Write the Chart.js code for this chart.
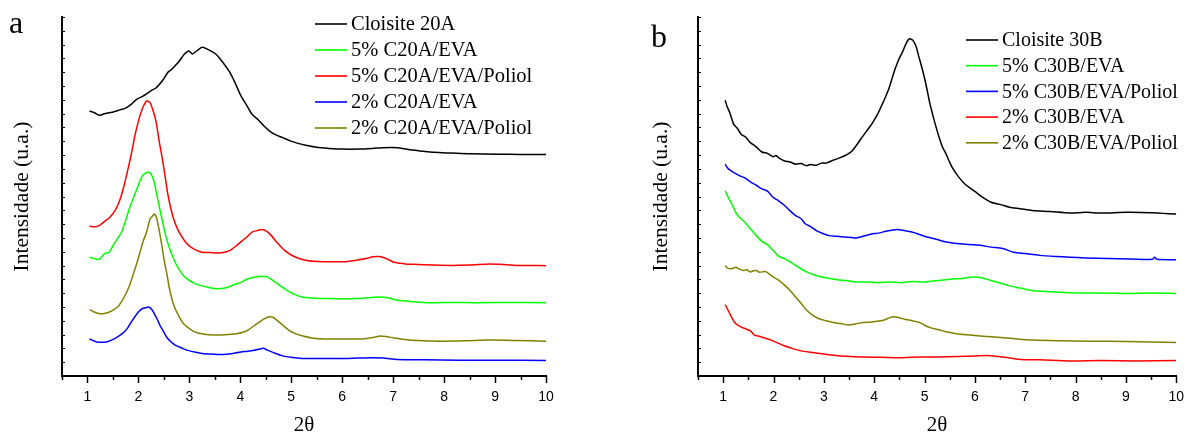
<!DOCTYPE html>
<html><head><meta charset="utf-8">
<script src="https://cdn.jsdelivr.net/npm/chart.js@4/dist/chart.umd.min.js"></script>
<style>
html,body{margin:0;padding:0;background:#fff;}
body{width:1197px;height:432px;position:relative;overflow:hidden;}
canvas{position:absolute;top:0;}
</style></head><body>
<canvas id="c1" width="598" height="432" style="left:0"></canvas>
<canvas id="c2" width="599" height="432" style="left:598px"></canvas>
<script>
// ---------- tick labels ----------
const xTickLabels = [1,2,3,4,5,6,7,8,9,10];
const xMinorTicks = [0.5,1.5,2.5,3.5,4.5,5.5,6.5,7.5,8.5,9.5];
const yMinorTicks = Array.from({length:27},(_, i)=> i*100/26);

// ---------- panel a: Cloisite 20A ----------
const labelsA = ["Cloisite 20A","5% C20A/EVA","5% C20A/EVA/Poliol","2% C20A/EVA","2% C20A/EVA/Poliol"];
const colorsA = ["#000000","#00ff00","#ff0000","#0000ff","#808000"];

const xA_c20a = [1.04,1.13,1.23,1.35,1.52,1.65,1.75,1.87,1.97,2.08,2.16,2.25,2.35,2.5,2.58,2.65,2.8,2.9,2.99,3.06,3.15,3.25,3.3,3.4,3.5,3.59,3.78,3.9,4.0,4.12,4.23,4.35,4.46,4.57,4.68,4.83,4.98,5.13,5.28,5.5,5.74,6.0,6.34,6.6,6.79,7.09,7.3,7.54,7.8,8.15,8.5,9.05,9.5,10];
const yA_c20a = [73.8,73.4,72.6,73.1,73.6,74.2,74.6,75.8,77.1,77.9,78.6,79.5,80.3,82.8,84.6,85.4,87.7,89.6,90.5,89.7,90.6,91.6,91.4,90.7,89.9,88.6,84.9,81.6,78.4,75.5,72.9,71.4,69.7,68.3,67.3,66.4,65.5,64.8,64.3,63.7,63.4,63.2,63.2,63.4,63.6,63.6,63.1,62.7,62.3,62.1,61.9,61.8,61.7,61.7];

const xA_5eva = [1.04,1.18,1.25,1.33,1.42,1.52,1.67,1.82,1.97,2.08,2.16,2.23,2.3,2.35,2.46,2.57,2.72,2.85,2.95,3.1,3.25,3.4,3.55,3.7,3.85,4.0,4.15,4.3,4.42,4.53,4.64,4.78,4.91,5.05,5.21,5.4,5.66,6.0,6.26,6.5,6.72,6.9,7.09,7.4,7.69,8.2,8.67,9.3,10];
const yA_5eva = [33.1,32.5,32.7,34.0,34.4,36.8,40.1,46.5,52.1,55.8,56.7,56.6,54.5,51.2,43.8,37.3,31.7,28.6,27.1,25.8,25.1,24.6,24.3,24.5,25.3,26.0,27.1,27.6,27.8,27.6,26.6,25.2,23.9,22.8,22.0,21.7,21.6,21.5,21.6,21.8,22.0,21.8,21.1,20.7,20.4,20.5,20.4,20.5,20.4];

const xA_5pol = [1.04,1.15,1.23,1.33,1.44,1.55,1.63,1.7,1.78,1.86,1.93,2.0,2.05,2.1,2.16,2.23,2.29,2.35,2.4,2.46,2.52,2.57,2.63,2.69,2.76,2.84,2.93,3.03,3.14,3.25,3.4,3.63,3.8,3.93,4.05,4.15,4.23,4.33,4.42,4.52,4.61,4.72,4.87,5.0,5.14,5.3,5.51,5.8,6.11,6.3,6.49,6.6,6.72,6.85,7.02,7.2,7.39,7.8,8.15,8.5,8.9,9.1,9.43,9.7,10];
const yA_5pol = [41.7,41.6,41.9,43.0,44.2,46.3,48.8,52.0,56.7,61.8,66.9,71.0,73.4,75.2,76.6,76.1,73.8,70.6,66.0,61.3,56.0,51.2,47.0,43.8,41.2,39.1,37.2,35.9,35.0,34.5,34.4,34.3,35.0,36.4,37.8,39.0,40.1,40.5,40.8,40.3,39.1,37.2,35.0,33.7,32.8,32.2,31.9,31.8,31.9,32.3,32.8,33.2,33.3,32.8,31.7,31.3,31.1,30.9,30.8,30.9,31.2,31.1,30.8,30.8,30.7];

const xA_2eva = [1.04,1.18,1.37,1.5,1.59,1.7,1.78,1.85,1.93,2.0,2.08,2.14,2.2,2.26,2.31,2.37,2.42,2.5,2.57,2.65,2.72,2.85,2.95,3.1,3.25,3.45,3.63,3.85,4.08,4.25,4.38,4.45,4.53,4.65,4.83,5.0,5.21,5.6,6.04,6.3,6.56,6.8,7.09,7.6,8.3,9.0,10];
const yA_2eva = [10.3,9.5,9.5,10.2,10.9,12.0,13.2,14.8,16.5,17.8,18.8,19.0,19.2,18.6,17.4,15.8,14.2,12.2,10.5,9.4,8.6,7.8,7.2,6.7,6.3,6.1,6.0,6.3,6.8,7.1,7.5,7.7,7.2,6.5,5.6,5.2,4.9,4.9,4.9,5.0,5.1,5.0,4.6,4.5,4.4,4.4,4.3];

const xA_2pol = [1.04,1.12,1.22,1.33,1.44,1.52,1.59,1.66,1.74,1.82,1.89,1.97,2.05,2.1,2.16,2.23,2.28,2.31,2.35,2.39,2.45,2.5,2.56,2.61,2.66,2.72,2.8,2.88,3.0,3.1,3.3,3.48,3.7,3.93,4.05,4.15,4.27,4.38,4.48,4.57,4.65,4.72,4.83,4.95,5.08,5.21,5.4,5.66,6.0,6.41,6.6,6.72,6.85,7.02,7.32,7.6,7.92,8.4,8.9,9.4,10];
const yA_2pol = [18.5,17.9,17.4,17.4,17.9,18.5,19.2,20.5,22.5,25.0,28.0,31.5,35.4,37.8,40.1,43.8,44.6,45.1,44.3,41.9,37.2,32.7,28.3,24.3,21.3,18.8,16.5,14.6,13.2,12.3,11.6,11.4,11.5,11.8,12.2,12.8,14.0,15.1,16.0,16.5,16.3,15.5,14.2,12.8,11.8,11.2,10.6,10.3,10.3,10.3,10.7,11.1,11.0,10.6,10.0,9.8,9.7,9.8,10.0,9.9,9.7];

// ---------- panel b: Cloisite 30B ----------
const labelsB = ["Cloisite 30B","5% C30B/EVA","5% C30B/EVA/Poliol","2% C30B/EVA","2% C30B/EVA/Poliol"];
const colorsB = ["#000000","#00ff00","#0000ff","#ff0000","#808000"];

const xB_c30b = [1.04,1.08,1.13,1.21,1.28,1.36,1.45,1.54,1.65,1.77,1.88,1.99,2.05,2.12,2.22,2.33,2.44,2.55,2.65,2.74,2.85,2.95,3.04,3.15,3.25,3.34,3.45,3.56,3.67,3.78,3.88,3.97,4.07,4.16,4.24,4.31,4.39,4.46,4.52,4.57,4.64,4.68,4.72,4.77,4.83,4.88,4.94,5.0,5.05,5.1,5.16,5.22,5.28,5.35,5.43,5.5,5.57,5.68,5.8,5.9,6.02,6.15,6.32,6.5,6.69,6.9,7.14,7.5,7.89,8.2,8.5,9.01,9.5,10];
const yB_c30b = [76.8,75.0,73.4,70.1,69.0,67.3,66.5,65.0,63.9,62.4,62.0,61.1,61.4,60.6,59.9,59.6,59.0,59.2,58.6,58.9,58.7,59.3,59.3,59.9,60.4,60.9,61.6,62.7,64.7,66.9,68.8,70.6,73.0,75.7,78.2,80.8,84.5,87.2,89.1,90.5,92.8,93.7,93.9,93.5,91.9,89.3,86.3,83.0,79.8,76.3,72.9,69.8,66.9,64.0,61.8,59.5,57.6,55.4,53.5,52.4,51.2,49.8,48.4,47.8,47.0,46.6,46.1,45.8,45.4,45.6,45.4,45.6,45.5,45.1];

const xB_5eva = [1.04,1.1,1.17,1.25,1.32,1.4,1.54,1.65,1.77,1.88,1.99,2.1,2.22,2.33,2.44,2.55,2.66,2.8,2.96,3.1,3.26,3.45,3.63,3.85,4.08,4.3,4.53,4.75,4.98,5.2,5.43,5.6,5.72,5.85,5.99,6.15,6.32,6.5,6.69,6.9,7.14,7.5,7.89,8.4,9.01,9.5,10];
const yB_5eva = [51.6,49.8,47.9,45.6,44.2,43.3,41.0,39.2,37.5,36.6,35.0,33.4,32.7,31.8,30.8,29.8,29.0,28.2,27.6,27.2,26.8,26.6,26.2,26.2,26.0,26.2,26.0,26.3,26.2,26.5,26.8,27.1,27.1,27.4,27.6,27.3,26.6,25.9,25.1,24.5,23.8,23.5,23.2,23.1,23.0,23.1,23.0];

const xB_5pol = [1.04,1.08,1.13,1.22,1.32,1.43,1.54,1.65,1.77,1.88,1.99,2.1,2.22,2.33,2.44,2.55,2.63,2.74,2.85,2.98,3.11,3.25,3.41,3.55,3.63,3.75,3.93,4.08,4.23,4.35,4.46,4.6,4.75,4.9,5.05,5.25,5.43,5.65,5.87,6.1,6.32,6.55,6.77,7.0,7.29,7.6,7.89,8.2,8.63,9.1,9.53,9.57,9.62,10];
const yB_5pol = [59.0,58.1,57.4,56.6,55.8,55.2,54.1,53.2,52.1,51.5,49.8,48.8,47.5,46.0,44.7,43.8,42.4,41.6,40.5,39.7,39.1,38.9,38.7,38.6,38.4,38.8,39.5,39.8,40.3,40.6,40.8,40.5,40.1,39.4,38.7,38.0,37.3,36.9,36.6,36.4,35.9,35.5,34.5,34.1,33.6,33.3,33.1,32.9,32.7,32.6,32.5,33.1,32.5,32.4];

const xB_2eva = [1.04,1.08,1.13,1.19,1.25,1.35,1.47,1.55,1.62,1.73,1.84,1.95,2.07,2.2,2.37,2.55,2.74,2.95,3.19,3.45,3.78,4.15,4.53,4.9,5.28,5.65,6.02,6.25,6.47,6.7,6.92,7.3,7.89,8.5,9.2,10];
const yB_2eva = [19.9,18.8,17.4,15.8,14.6,13.7,13.0,12.5,11.4,11.0,10.5,10.0,9.3,8.5,7.7,7.0,6.6,6.2,5.8,5.5,5.3,5.2,5.1,5.3,5.3,5.4,5.6,5.7,5.4,5.0,4.6,4.5,4.2,4.3,4.2,4.3];

const xB_2pol = [1.04,1.08,1.13,1.2,1.25,1.32,1.4,1.47,1.54,1.6,1.66,1.72,1.84,1.92,1.99,2.1,2.22,2.33,2.44,2.55,2.66,2.77,2.89,3.04,3.19,3.34,3.49,3.63,3.78,3.93,4.08,4.2,4.3,4.38,4.48,4.6,4.75,4.9,5.02,5.13,5.28,5.43,5.58,5.72,6.0,6.32,6.7,7.14,7.7,8.26,9.0,10];
const yB_2pol = [30.8,30.1,29.9,30.0,30.3,29.8,29.4,29.6,29.0,29.3,29.4,28.9,29.1,28.4,27.6,26.7,25.3,23.8,22.0,20.2,18.3,17.0,16.0,15.4,14.9,14.6,14.2,14.5,14.9,15.0,15.3,15.6,16.2,16.5,16.3,15.8,15.4,14.9,14.0,13.4,12.9,12.3,11.9,11.6,11.3,10.9,10.5,10.0,9.8,9.7,9.6,9.3];

// ---------- helpers ----------
function pts(xs, ys){ return xs.map((x,i)=>({x:x, y:ys[i]})); }
let legLineLen = 32;

function makeDecor(letter, letterX, letterY, legX, legY, legGap, legFont){
  return {
    id:'decor',
    afterDraw(chart){
      const ctx = chart.ctx, xs = chart.scales.x, ys = chart.scales.y, a = chart.chartArea;
      ctx.save();
      ctx.strokeStyle = '#000';
      ctx.lineWidth = 1.5;
      xTickLabels.forEach(v=>{ const p = Math.round(xs.getPixelForValue(v))+0.5; ctx.beginPath(); ctx.moveTo(p,a.bottom); ctx.lineTo(p,a.bottom+7); ctx.stroke(); });
      xMinorTicks.forEach(v=>{ const p = Math.round(xs.getPixelForValue(v))+0.5; ctx.beginPath(); ctx.moveTo(p,a.bottom); ctx.lineTo(p,a.bottom+4); ctx.stroke(); });
      ctx.lineWidth = 1;
      yMinorTicks.forEach(v=>{ const p = Math.round(ys.getPixelForValue(v))+0.5; ctx.beginPath(); ctx.moveTo(a.left,p); ctx.lineTo(a.left+3,p); ctx.stroke(); });
      ctx.font = legFont + 'px "Liberation Serif", "Times New Roman", serif';
      ctx.textBaseline = 'middle';
      ctx.textAlign = 'left';
      chart.data.datasets.forEach((d,i)=>{
        const yy = legY + i*legGap;
        ctx.strokeStyle = d.borderColor; ctx.lineWidth = 1.6;
        ctx.beginPath(); ctx.moveTo(legX, yy); ctx.lineTo(legX+legLineLen, yy); ctx.stroke();
        ctx.fillStyle = '#000';
        ctx.fillText(d.label, legX+legLineLen+4, yy+1);
      });
      ctx.font = '32px "Liberation Serif", "Times New Roman", serif';
      ctx.textBaseline = 'alphabetic';
      ctx.fillStyle = '#000';
      ctx.fillText(letter, letterX, letterY);
      ctx.restore();
    }
  };
}

function makeChart(id, labels, colors, series, yAxisWidth, padRight, titlePad, decor){
  const datasets = series.map((s,i)=>({
    label: labels[i], data: pts(s[0], s[1]),
    borderColor: colors[i], backgroundColor: colors[i],
    borderWidth: 1.5, pointRadius: 0, tension: 0.25, fill:false
  }));
  return new Chart(document.getElementById(id), {
    type:'line',
    data:{datasets},
    options:{
      responsive:false, animation:false, devicePixelRatio:1,
      layout:{padding:{left:0,right:padRight,top:17,bottom:0}},
      plugins:{legend:{display:false}, tooltip:{enabled:false}},
      scales:{
        x:{
          type:'linear', min:0.5, max:10, position:'bottom',
          grid:{display:false, drawTicks:false},
          border:{display:true, color:'#000', width:2},
          afterBuildTicks: s => { s.ticks = xTickLabels.map(v=>({value:v})); },
          afterFit: s => { s.height = 56; },
          ticks:{color:'#000', padding:13, autoSkip:false, maxRotation:0,
                 font:{family:'"Liberation Sans", Arial, sans-serif', size:14}},
          title:{display:true, text:'2θ', color:'#000', padding:0,
                 font:{family:'"Liberation Serif", "Times New Roman", serif', size:21, lineHeight:0.65}}
        },
        y:{
          type:'linear', min:0, max:100,
          grid:{display:false, drawTicks:false},
          border:{display:true, color:'#000', width:2},
          ticks:{display:false},
          afterBuildTicks: s => { s.ticks = yMinorTicks.map(v=>({value:v})); },
          afterFit: s => { s.width = yAxisWidth; },
          title:{display:true, text:'Intensidade (u.a.)', color:'#000', padding:{top:titlePad, bottom:0},
                 font:{family:'"Liberation Serif", "Times New Roman", serif', size:21.5, lineHeight:1.2}}
        }
      }
    },
    plugins:[decor]
  });
}

makeChart('c1', labelsA, colorsA,
  [[xA_c20a,yA_c20a],[xA_5eva,yA_5eva],[xA_5pol,yA_5pol],[xA_2eva,yA_2eva],[xA_2pol,yA_2pol]],
  62, 52, 9, makeDecor('a', 9, 33, 315, 24, 26, 20.5));

makeChart('c2', labelsB, colorsB,
  [[xB_c30b,yB_c30b],[xB_5eva,yB_5eva],[xB_5pol,yB_5pol],[xB_2eva,yB_2eva],[xB_2pol,yB_2pol]],
  100, 13, 50, makeDecor('b', 53, 47, 368, 40, 25.7, 20));
</script>
</body></html>
